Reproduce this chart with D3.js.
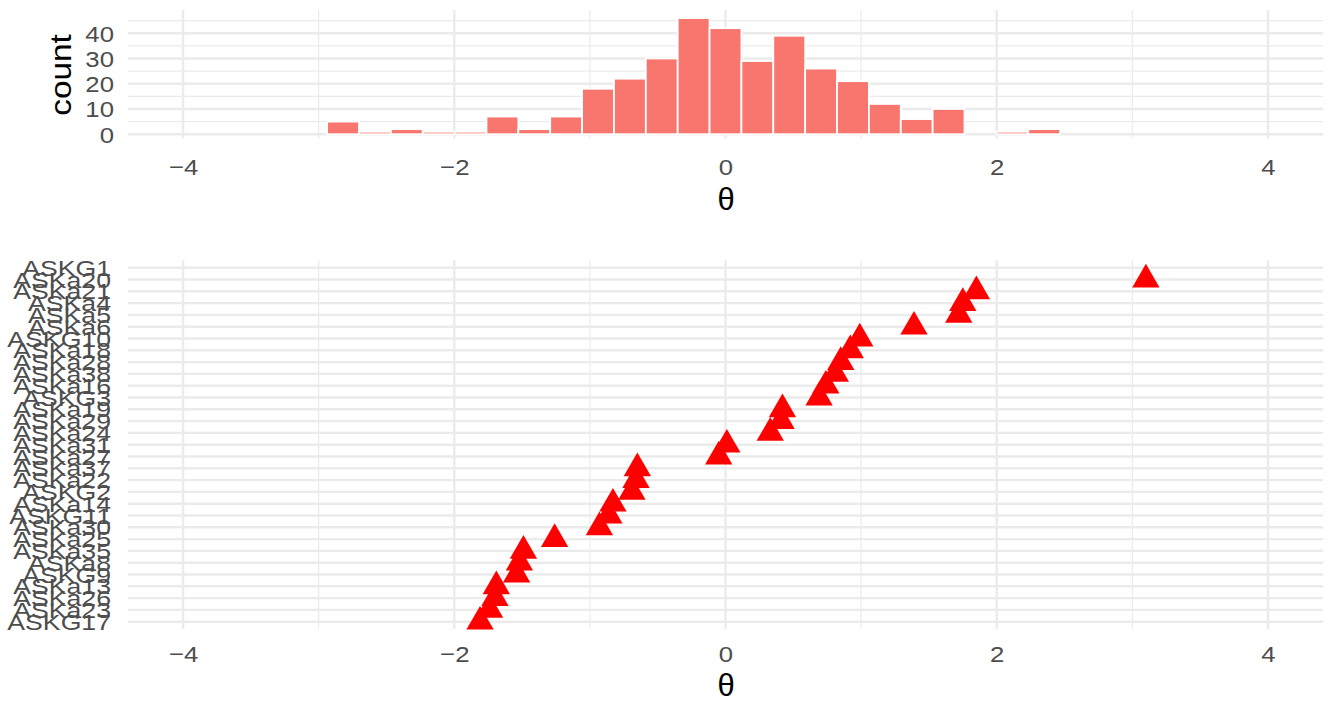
<!DOCTYPE html>
<html>
<head>
<meta charset="utf-8">
<script src="https://cdnjs.cloudflare.com/ajax/libs/d3/7.8.5/d3.min.js"></script>
<style>
  body { margin: 0; background: #fff; }
  text { font-family: "Liberation Sans", Arial, sans-serif; }
</style>
</head>
<body>
<div id="chart-area"></div>
<script>
// histogram of person theta: bin centres and counts
var binMids = [-3.76, -3.525, -3.29, -3.055, -2.82, -2.585, -2.35, -2.115, -1.88, -1.645, -1.41,
  -1.175, -0.94, -0.705, -0.47, -0.235, 0, 0.235, 0.47, 0.705, 0.94, 1.175, 1.41, 1.645,
  1.88, 2.115, 2.35, 2.585, 2.82, 3.055, 3.29, 3.525, 3.76]
var binCounts = [0, 0, 0, 0, 5, 1, 2, 1, 1, 7, 2,
  7, 18, 22, 30, 46, 42, 29, 39, 26, 21, 12, 6, 10,
  0, 1, 2, 0, 0, 0, 0, 0, 0]
var binWidth = 0.235

// item difficulties, top row first (ASKG1 has no estimate)
var items = ["ASKG1", "ASKa20", "ASKa21", "ASKa4", "ASKa5", "ASKa6", "ASKG10", "ASKa18",
  "ASKa28", "ASKa38", "ASKa16", "ASKG3", "ASKa19", "ASKa29", "ASKa24", "ASKa31",
  "ASKa27", "ASKa37", "ASKa22", "ASKG2", "ASKa14", "ASKG11", "ASKa30", "ASKa25",
  "ASKa35", "ASKa8", "ASKG9", "ASKa13", "ASKa26", "ASKa23", "ASKG17"]
var itemTheta = [null, 3.10, 1.85, 1.75, 1.72, 1.39, 0.99, 0.92,
  0.85, 0.81, 0.74, 0.69, 0.42, 0.41, 0.33, 0.01,
  -0.05, -0.65, -0.66, -0.69, -0.83, -0.86, -0.93, -1.26,
  -1.49, -1.52, -1.54, -1.69, -1.70, -1.74, -1.81]

var thetaTicks = [-4, -2, 0, 2, 4]
var thetaMinor = [-3, -1, 1, 3]
var countTicks = [0, 10, 20, 30, 40]
var countMinor = [5, 15, 25, 35, 45]

var gridCol = "#ebebeb"
var textCol = "#4d4d4d"

var svg = d3.select("#chart-area")
  .append("svg")
  .attr("width", 1333)
  .attr("height", 703)

var x = d3.scaleLinear().domain([-4.406, 4.406]).range([128, 1323])
var yCount = d3.scaleLinear().domain([-1.7, 49.2]).range([138.5, 10])
var yItem = d3.scalePoint().domain(items).range([260.6, 628.8]).padding(0.6)

// stretched text helper (reference glyphs are wider than Arial)
function stretchText(sel, size, sx, anchor, shift) {
  sel.attr("x", null).attr("y", null).attr("dy", null)
    .attr("dominant-baseline", "central")
    .attr("text-anchor", anchor)
    .attr("font-size", size)
    .attr("fill", textCol)
    .attr("transform", "translate(" + shift + ",0) scale(" + sx + ",1)")
}

// ---------- top panel: histogram ----------
var histPanel = svg.append("g")

histPanel.selectAll(".minH").data(countMinor).enter().append("line")
  .attr("x1", 128).attr("x2", 1323)
  .attr("y1", d => yCount(d)).attr("y2", d => yCount(d))
  .attr("stroke", gridCol).attr("stroke-width", 1.2)
histPanel.selectAll(".majH").data(countTicks).enter().append("line")
  .attr("x1", 128).attr("x2", 1323)
  .attr("y1", d => yCount(d)).attr("y2", d => yCount(d))
  .attr("stroke", gridCol).attr("stroke-width", 2.4)
histPanel.selectAll(".minV").data(thetaMinor).enter().append("line")
  .attr("x1", d => x(d)).attr("x2", d => x(d))
  .attr("y1", 10).attr("y2", 138.5)
  .attr("stroke", gridCol).attr("stroke-width", 1.2)
histPanel.selectAll(".majV").data(thetaTicks).enter().append("line")
  .attr("x1", d => x(d)).attr("x2", d => x(d))
  .attr("y1", 10).attr("y2", 138.5)
  .attr("stroke", gridCol).attr("stroke-width", 2.4)

histPanel.selectAll("rect").data(binMids).enter().append("rect")
  .attr("x", d => x(d - binWidth / 2))
  .attr("width", d => x(d + binWidth / 2) - x(d - binWidth / 2))
  .attr("y", (d, i) => yCount(binCounts[i]))
  .attr("height", (d, i) => yCount(0) - yCount(binCounts[i]))
  .attr("fill", "#F8766D")
  .attr("stroke", "#ffffff")
  .attr("stroke-width", 1.8)

var yAxisTop = histPanel.append("g")
  .attr("transform", "translate(114,0)")
  .call(d3.axisLeft(yCount).tickValues(countTicks).tickSize(0))
yAxisTop.select(".domain").remove()
yAxisTop.selectAll("text").call(stretchText, 23, 1.12, "end", 0)

var xAxisTop = histPanel.append("g")
  .attr("transform", "translate(0,167)")
  .call(d3.axisBottom(x).tickValues(thetaTicks).tickSize(0))
xAxisTop.select(".domain").remove()
xAxisTop.selectAll("text").call(stretchText, 23, 1.12, "middle", 0)

histPanel.append("text")
  .attr("transform", "translate(726,199)")
  .attr("text-anchor", "middle").attr("dominant-baseline", "central")
  .attr("font-size", 31).attr("fill", "#000")
  .text("θ")

histPanel.append("text")
  .attr("transform", "translate(61,75) rotate(-90) scale(1.15,1)")
  .attr("text-anchor", "middle").attr("dominant-baseline", "central")
  .attr("font-size", 29).attr("fill", "#000")
  .text("count")

// ---------- bottom panel: item map ----------
var itemPanel = svg.append("g")

itemPanel.selectAll(".itemH").data(items).enter().append("line")
  .attr("x1", 128).attr("x2", 1323)
  .attr("y1", d => yItem(d)).attr("y2", d => yItem(d))
  .attr("stroke", gridCol).attr("stroke-width", 2.4)
itemPanel.selectAll(".minV").data(thetaMinor).enter().append("line")
  .attr("x1", d => x(d)).attr("x2", d => x(d))
  .attr("y1", 260.6).attr("y2", 628.8)
  .attr("stroke", gridCol).attr("stroke-width", 1.2)
itemPanel.selectAll(".majV").data(thetaTicks).enter().append("line")
  .attr("x1", d => x(d)).attr("x2", d => x(d))
  .attr("y1", 260.6).attr("y2", 628.8)
  .attr("stroke", gridCol).attr("stroke-width", 2.4)

var tri = d3.symbol().type(d3.symbolTriangle).size(324)
itemPanel.selectAll("path.pt")
  .data(items.filter((d, i) => itemTheta[i] != null))
  .enter().append("path")
  .attr("class", "pt")
  .attr("d", tri)
  .attr("transform", d => "translate(" + x(itemTheta[items.indexOf(d)]) + "," + yItem(d) + ")")
  .attr("fill", "#ff0000")

var yAxisBot = itemPanel.append("g")
  .attr("transform", "translate(111,0)")
  .call(d3.axisLeft(yItem).tickSize(0))
yAxisBot.select(".domain").remove()
yAxisBot.selectAll("text").call(stretchText, 21.5, 1.24, "end", 0)

var xAxisBot = itemPanel.append("g")
  .attr("transform", "translate(0,654)")
  .call(d3.axisBottom(x).tickValues(thetaTicks).tickSize(0))
xAxisBot.select(".domain").remove()
xAxisBot.selectAll("text").call(stretchText, 23, 1.12, "middle", 0)

itemPanel.append("text")
  .attr("transform", "translate(726,685)")
  .attr("text-anchor", "middle").attr("dominant-baseline", "central")
  .attr("font-size", 31).attr("fill", "#000")
  .text("θ")
</script>
</body>
</html>
